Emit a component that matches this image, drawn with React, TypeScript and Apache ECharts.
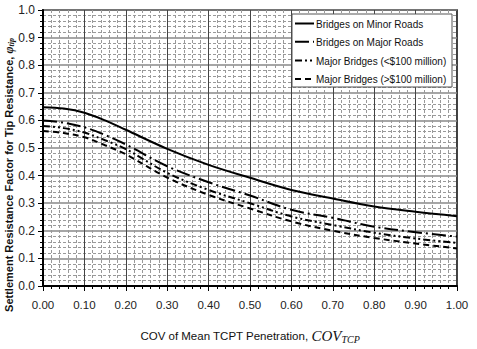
import React, { useEffect, useRef } from "react";
import * as echarts from "echarts";

const xValues = [0, 0.05, 0.1, 0.15, 0.2, 0.3, 0.4, 0.5, 0.6, 0.7, 0.8, 0.9, 1.0];
const minorRoads = [0.648, 0.643, 0.628, 0.6, 0.566, 0.497, 0.439, 0.392, 0.348, 0.317, 0.288, 0.269, 0.253];
const majorRoads = [0.6, 0.592, 0.575, 0.547, 0.513, 0.434, 0.376, 0.328, 0.276, 0.247, 0.215, 0.195, 0.179];
const majorLess = [0.58, 0.572, 0.556, 0.528, 0.496, 0.41, 0.348, 0.3, 0.252, 0.221, 0.193, 0.172, 0.156];
const majorMore = [0.562, 0.554, 0.539, 0.51, 0.477, 0.393, 0.33, 0.281, 0.234, 0.2, 0.174, 0.154, 0.136];
const seriesNames = [
  "Bridges on Minor Roads",
  "Bridges on Major Roads",
  "Major Bridges (<$100 million)",
  "Major Bridges (>$100 million)",
];

const FONT = "'Liberation Sans', Arial, sans-serif";
const SERIF = "'Liberation Serif', 'Times New Roman', serif";

export default function App() {
  const ref = useRef<HTMLDivElement>(null);
  useEffect(() => {
    if (!ref.current) return;
    const chart = echarts.init(ref.current, null, { renderer: "svg" });
    const pair = (arr: number[]) => xValues.map((x, i) => [x, arr[i]]);
    const dashes: any[] = ["solid", [14, 4, 2, 4], [7, 3, 2, 3, 2, 3], [6, 4]];
    const all = [minorRoads, majorRoads, majorLess, majorMore];
    const legendRows = [23.5, 41.8, 60.6, 79];
    const legendGraphics: any[] = [
      {
        type: "rect",
        shape: { x: 292, y: 14, width: 160, height: 73 },
        style: { fill: "#fff", stroke: "#555", lineWidth: 1 },
        z: 100,
      },
    ];
    seriesNames.forEach((n, i) => {
      legendGraphics.push({
        type: "line",
        shape: { x1: 295, y1: legendRows[i], x2: 314, y2: legendRows[i] },
        style: { stroke: "#000", lineWidth: 2, lineDash: dashes[i] === "solid" ? null : dashes[i] },
        z: 101,
      });
      legendGraphics.push({
        type: "text",
        x: 316,
        y: legendRows[i],
        scaleX: 0.87,
        style: { text: n, font: "11.5px " + FONT, fill: "#111", verticalAlign: "middle", align: "left" },
        z: 101,
      });
    });
    chart.setOption({
      animation: false,
      backgroundColor: "#fff",
      textStyle: { fontFamily: FONT },
      grid: {
        left: 43,
        right: 20,
        top: 10,
        bottom: 50.5,
        show: true,
        borderColor: "#000",
        borderWidth: 1.5,
        backgroundColor: "#fff",
      },
      xAxis: {
        type: "value",
        min: 0,
        max: 1,
        interval: 0.1,
        name: "COV of Mean TCPT Penetration, {i|COV}{s|TCP}",
        nameLocation: "middle",
        nameGap: 42,
        nameTextStyle: {
          fontFamily: FONT,
          fontSize: 11.5,
          color: "#111",
          rich: {
            i: { fontFamily: SERIF, fontStyle: "italic", fontSize: 15, color: "#111" },
            s: { fontFamily: SERIF, fontStyle: "italic", fontSize: 10, color: "#111", padding: [6, 0, 0, 0] },
          },
        },
        axisLine: { show: true, lineStyle: { color: "#000", width: 2 } },
        axisTick: { show: true, length: 5, lineStyle: { color: "#000", width: 1 } },
        minorTick: { show: true, splitNumber: 5, length: 3, lineStyle: { color: "#000", width: 1 } },
        axisLabel: {
          margin: 13,
          fontFamily: FONT,
          fontSize: 11.5,
          color: "#222",
          formatter: (v: number) => v.toFixed(2),
        },
        splitLine: { show: true, lineStyle: { color: "#444", width: 1 } },
        minorSplitLine: { show: true, lineStyle: { color: "#999", width: 1, type: [3, 2] } },
      },
      yAxis: {
        type: "value",
        min: 0,
        max: 1,
        interval: 0.1,
        axisLine: { show: true, lineStyle: { color: "#000", width: 2 } },
        axisTick: { show: true, length: 5, lineStyle: { color: "#000", width: 1 } },
        minorTick: { show: true, splitNumber: 5, length: 3, lineStyle: { color: "#000", width: 1 } },
        axisLabel: {
          margin: 8,
          fontFamily: FONT,
          fontSize: 12,
          color: "#222",
          formatter: (v: number) => v.toFixed(1),
        },
        splitLine: { show: true, lineStyle: { color: "#888", width: 1.5 } },
        minorSplitLine: { show: true, lineStyle: { color: "#999", width: 1, type: [3, 2] } },
      },
      graphic: [
        {
          type: "text",
          x: 9,
          y: 175,
          rotation: Math.PI / 2,
          style: {
            text: "Settlement Resistance Factor for Tip Resistance, {p|φ}{s|tip}",
            font: "bold 11px " + FONT,
            fill: "#111",
            align: "center",
            verticalAlign: "middle",
            rich: {
              p: { fontFamily: SERIF, fontStyle: "italic", fontWeight: "bold", fontSize: 12, fill: "#111" },
              s: { fontFamily: SERIF, fontStyle: "italic", fontWeight: "bold", fontSize: 8, fill: "#111", padding: [5, 0, 0, 0] },
            },
          },
        },
        ...legendGraphics,
      ],
      series: all.map((arr, i) => ({
        name: seriesNames[i],
        type: "line",
        data: pair(arr),
        smooth: 0.35,
        showSymbol: false,
        symbol: "none",
        color: "#000",
        lineStyle: { color: "#000", width: 2, type: dashes[i] },
      })),
    });
    return () => chart.dispose();
  }, []);
  return <div ref={ref} style={{ position: "fixed", left: 0, top: 0, width: 477, height: 349 }} />;
}
